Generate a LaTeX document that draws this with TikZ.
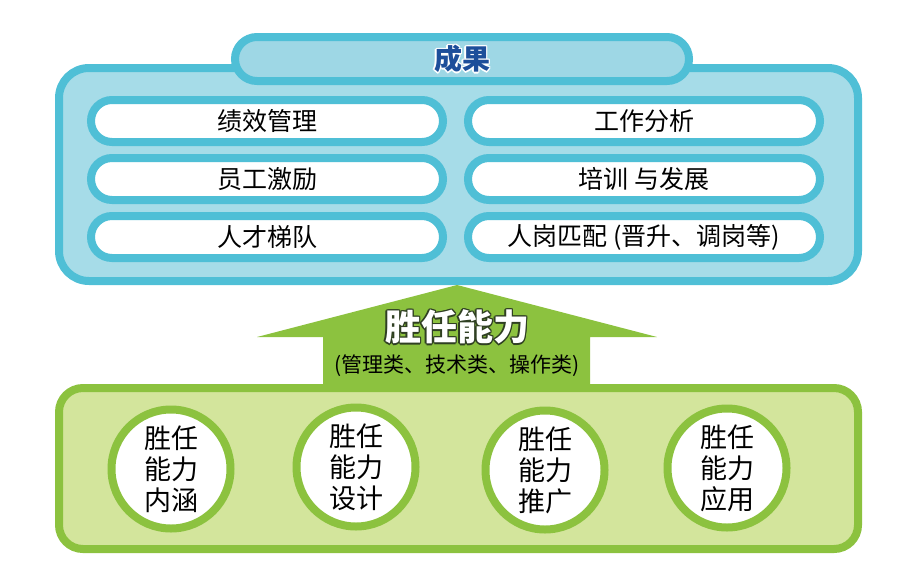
\documentclass[tikz,border=0pt]{standalone}
\usepackage{fontspec}
\setmainfont{Noto Sans CJK SC}
\usetikzlibrary{positioning}
\definecolor{cyanline}{HTML}{4FBFD6}
\definecolor{cyanfill}{HTML}{A6DCE8}
\definecolor{tabfill}{HTML}{9ED7E5}
\definecolor{leafline}{HTML}{8CC23F}
\definecolor{leaffill}{HTML}{D3E59C}
\definecolor{navytext}{HTML}{1D4E9A}
\definecolor{darkedge}{HTML}{2F3F22}

% text with a coloured edge: #1 edge colour, #2 fill colour, #3 text
\newcommand{\edgetext}[3]{{\def\etxt{#3}%
  \foreach \dx/\dy in {-1.4/0,1.4/0,0/-1.4,0/1.4,-1/-1,1/1,-1/1,1/-1}
    {\rlap{\color{#1}\hspace{\dx pt}\raisebox{\dy pt}{\etxt}}}%
  \color{#2}\etxt}}

\begin{document}
\begin{tikzpicture}[x=1pt, y=-1pt,
    panel/.style={draw=cyanline, line width=8pt, fill=cyanfill, rounded corners=30pt, inner sep=0pt},
    item/.style={draw=cyanline, line width=8pt, fill=white, rounded corners=21pt, minimum width=352pt, minimum height=42pt, font=\fontsize{25}{28}\selectfont},
    basin/.style={draw=leafline, line width=8pt, fill=leaffill, rounded corners=24pt, inner sep=0pt},
    ring/.style={circle, draw=leafline, line width=8pt, fill=white, minimum size=119pt, inner sep=0pt, align=center, font=\fontsize{27}{31}\selectfont}
]
    \useasboundingbox (0,0) rectangle (912,581);

    % --- Results panel ---
    \node[panel, minimum width=799pt, minimum height=213pt] (result) at (458.5,174.5) {};
    \node[panel, fill=tabfill, rounded corners=22pt, minimum width=454pt, minimum height=44pt] (tab) at (462,59) {};
    \node[font=\fontsize{28}{30}\selectfont\bfseries] (tabtext) at (tab.center) {\edgetext{white}{navytext}{成果}};

    \node[item] (perf)   at (267,121) {绩效管理};
    \node[item] (motiv)  at (267,179) {员工激励};
    \node[item] (ladder) at (267,237) {人才梯队};
    \node[item] (job)    at (644,121) {工作分析};
    \node[item] (train)  at (644,179) {培训 与发展};
    \node[item] (match)  at (644,237) {人岗匹配 (晋升、调岗等)};

    % --- Arrow up to the results ---
    \coordinate (tip) at (457,285);
    \fill[leafline] (tip) -- (657,337) -- (590,337) -- (590,388) -- (323,388) -- (323,337) -- (257,337) -- cycle;
    \node[font=\fontsize{36}{38}\selectfont\bfseries] (comp) at (457,327) {\edgetext{darkedge}{white}{胜任能力}};
    \node[font=\fontsize{21}{23}\selectfont] (kinds) at (457,366) {(管理类、技术类、操作类)};

    % --- Competency panel ---
    \node[basin, minimum width=799pt, minimum height=161pt] (base) at (458.5,468.5) {};
    \node[ring] (meaning) at (171,469) {胜任\\能力\\内涵};
    \node[ring] (design)  at (356,467) {胜任\\能力\\设计};
    \node[ring] (spread)  at (545,470) {胜任\\能力\\推广};
    \node[ring] (apply)   at (727,468) {胜任\\能力\\应用};

\end{tikzpicture}
\end{document}
